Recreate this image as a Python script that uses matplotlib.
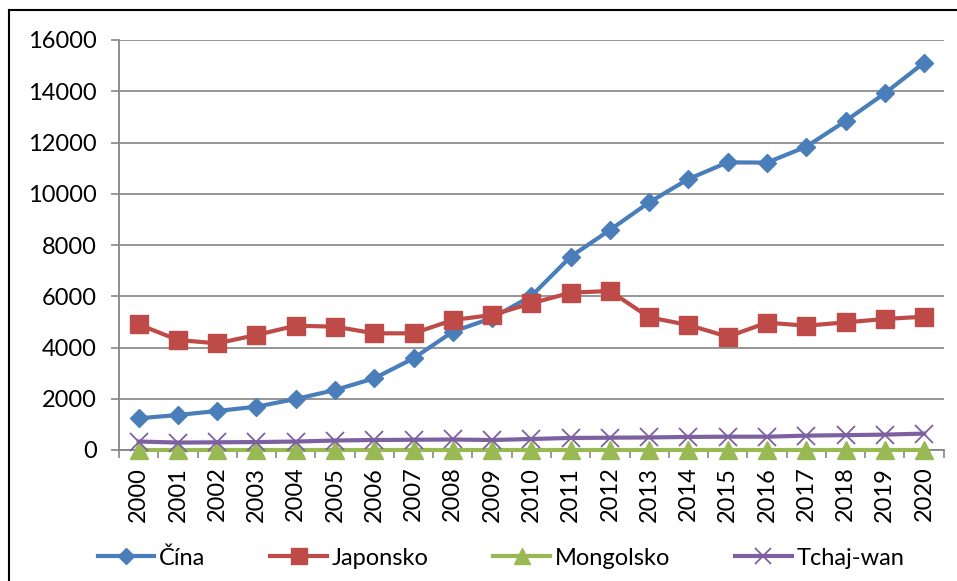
import matplotlib
matplotlib.use("Agg")
import matplotlib.pyplot as plt
from matplotlib.lines import Line2D

YEARS = [str(y) for y in range(2000, 2021)]

CINA = [1236, 1366, 1522, 1691, 1990, 2341, 2797, 3577, 4618, 5150, 6010,
        7545, 8585, 9665, 10575, 11226, 11215, 11837, 12839, 13919, 15115]
JAPONSKO = [4900, 4293, 4163, 4488, 4851, 4813, 4553, 4553, 5073, 5268, 5723,
            6140, 6205, 5177, 4878, 4423, 4969, 4851, 4981, 5112, 5203]
MONGOLSKO = [10, 10, 10, 10, 10, 10, 10, 10, 10, 10, 10,
             10, 10, 10, 10, 10, 10, 10, 10, 10, 10]
TCHAJ_WAN = [330, 290, 300, 310, 330, 370, 390, 400, 410, 390, 430,
             470, 480, 490, 510, 520, 520, 560, 580, 600, 640]

SERIES = [
    ("Čína", CINA, "#4A7EBB", "D", 9, 1.0),
    ("Japonsko", JAPONSKO, "#BE4B48", "s", 13, 1.0),
    ("Mongolsko", MONGOLSKO, "#98B954", "^", 13, 1.0),
    ("Tchaj-wan", TCHAJ_WAN, "#7D60A0", "x", 13, 1.3),
]

Y_TICKS = [0, 2000, 4000, 6000, 8000, 10000, 12000, 14000, 16000]

FONT = "Lato"
FS = 17
W, H = 957, 581


def main() -> None:
    fig = plt.figure(figsize=(W / 100, H / 100), dpi=100, facecolor="white")
    ax = fig.add_axes([119 / W, 1 - 450 / H, (943.7 - 119) / W, 410 / H])

    x = list(range(len(YEARS)))
    handles = []
    for name, vals, color, marker, ms, mew in SERIES:
        line, = ax.plot(x, vals, color=color, linewidth=3, marker=marker,
                        markersize=ms, markerfacecolor=color, markeredgecolor=color,
                        markeredgewidth=mew, clip_on=False, zorder=3, label=name)
        handles.append(line)

    ax.set_xlim(-0.5, len(YEARS) - 0.5)
    ax.set_ylim(0, 16000)
    ax.set_yticks(Y_TICKS)
    ax.set_yticklabels([str(v) for v in Y_TICKS], fontsize=FS, family=FONT)
    ax.set_xticks(x)
    ax.set_xticklabels(YEARS, rotation=90, fontsize=FS, family=FONT)
    ax.set_xticks([i - 0.5 for i in range(len(YEARS) + 1)], minor=True)
    ax.tick_params(axis="x", which="major", length=0, pad=12)
    ax.tick_params(axis="x", which="minor", length=6, width=1.2, color="#868686", direction="out")
    ax.tick_params(axis="y", length=6, width=1.2, color="#868686", pad=10)

    ax.grid(axis="y", color="#8c8c8c", linewidth=1.3)
    ax.set_axisbelow(True)
    for side in ("top", "right"):
        ax.spines[side].set_visible(False)
    for side in ("left", "bottom"):
        ax.spines[side].set_color("#868686")
        ax.spines[side].set_linewidth(1.3)

    fig.legend(handles=handles, loc="center", bbox_to_anchor=(501 / W, 1 - 558 / H),
               ncol=4, frameon=False, handlelength=2.4, handletextpad=0.2,
               columnspacing=2.75, markerscale=0.85, borderpad=0, borderaxespad=0,
               prop={"family": FONT, "size": FS})

    # outer chart border (only top and left visible in crop)
    fig.add_artist(Line2D([9 / W, 9 / W], [0, 1 - 10 / H], color="black", linewidth=1.5,
                          transform=fig.transFigure))
    fig.add_artist(Line2D([9 / W, 1], [1 - 10 / H, 1 - 10 / H], color="black", linewidth=1.5,
                          transform=fig.transFigure))

    fig.savefig("out.png", dpi=100, facecolor="white")
    plt.close(fig)


if __name__ == "__main__":
    main()
